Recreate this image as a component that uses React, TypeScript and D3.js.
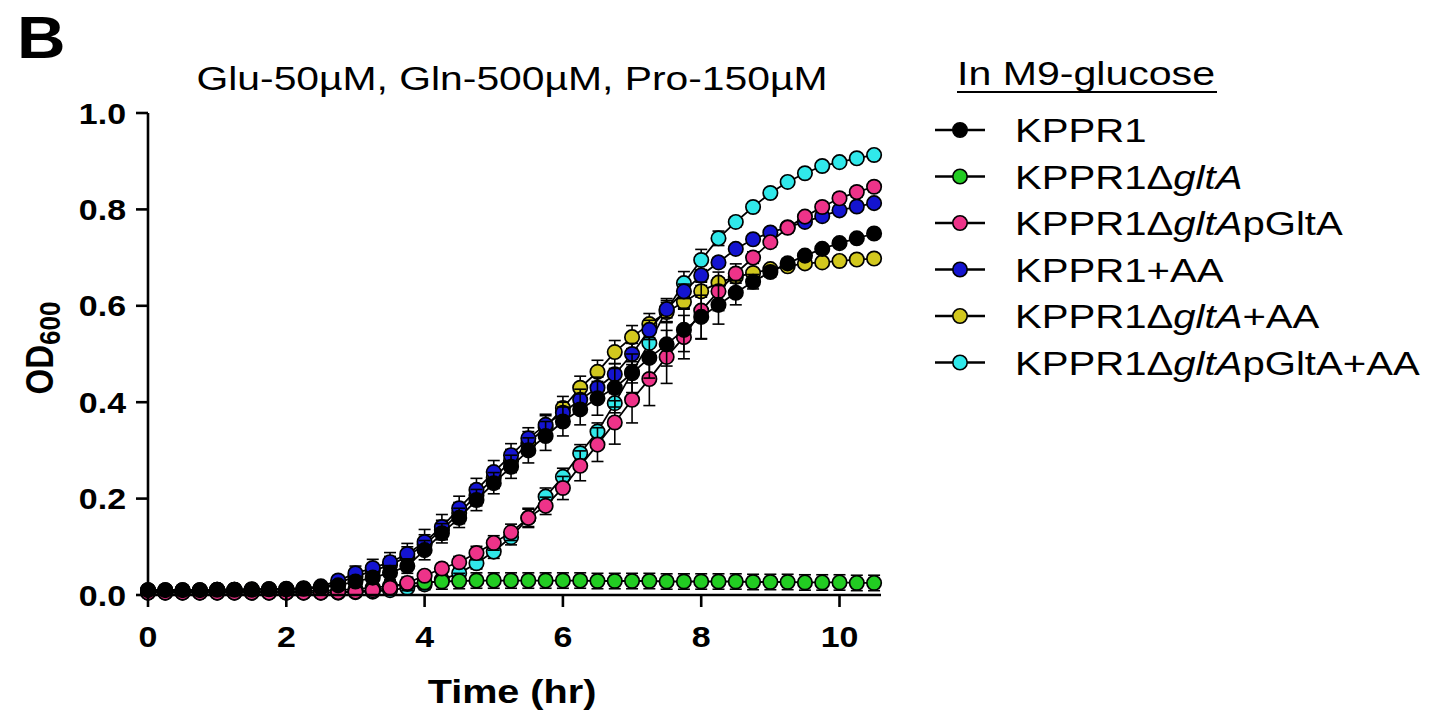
import React from "react";
import * as d3 from "d3";

const time = [0, 0.25, 0.5, 0.75, 1, 1.25, 1.5, 1.75, 2, 2.25, 2.5, 2.75, 3, 3.25, 3.5, 3.75, 4, 4.25, 4.5, 4.75, 5, 5.25, 5.5, 5.75, 6, 6.25, 6.5, 6.75, 7, 7.25, 7.5, 7.75, 8, 8.25, 8.5, 8.75, 9, 9.25, 9.5, 9.75, 10, 10.25, 10.5];

const kppr1 = [0.010, 0.010, 0.010, 0.010, 0.011, 0.011, 0.011, 0.012, 0.012, 0.013, 0.015, 0.020, 0.028, 0.036, 0.046, 0.060, 0.093, 0.128, 0.160, 0.197, 0.232, 0.266, 0.300, 0.330, 0.360, 0.385, 0.408, 0.430, 0.460, 0.492, 0.520, 0.550, 0.577, 0.602, 0.627, 0.650, 0.670, 0.688, 0.704, 0.718, 0.730, 0.740, 0.750];
const kppr1Err = [0.002, 0.002, 0.002, 0.002, 0.002, 0.002, 0.002, 0.002, 0.002, 0.003, 0.004, 0.006, 0.010, 0.012, 0.015, 0.015, 0.020, 0.020, 0.020, 0.022, 0.022, 0.024, 0.026, 0.030, 0.030, 0.032, 0.035, 0.040, 0.040, 0.042, 0.045, 0.045, 0.045, 0.040, 0.025, 0.015, 0.010, 0.010, 0.008, 0.008, 0.008, 0.008, 0.008];

const gltA = [0.008, 0.008, 0.008, 0.008, 0.008, 0.008, 0.008, 0.008, 0.008, 0.008, 0.009, 0.010, 0.012, 0.015, 0.019, 0.023, 0.026, 0.028, 0.029, 0.030, 0.030, 0.030, 0.030, 0.030, 0.030, 0.030, 0.029, 0.029, 0.029, 0.029, 0.028, 0.028, 0.028, 0.028, 0.028, 0.027, 0.027, 0.027, 0.026, 0.026, 0.026, 0.025, 0.025];
const gltAErr = [0.004, 0.004, 0.004, 0.004, 0.004, 0.004, 0.004, 0.004, 0.004, 0.004, 0.005, 0.006, 0.008, 0.010, 0.012, 0.014, 0.015, 0.016, 0.016, 0.016, 0.016, 0.016, 0.016, 0.016, 0.016, 0.016, 0.016, 0.016, 0.016, 0.016, 0.016, 0.016, 0.016, 0.016, 0.016, 0.016, 0.016, 0.016, 0.016, 0.016, 0.016, 0.016, 0.016];

const pGltA = [0.005, 0.005, 0.005, 0.005, 0.005, 0.005, 0.005, 0.005, 0.005, 0.005, 0.005, 0.006, 0.007, 0.010, 0.015, 0.025, 0.040, 0.055, 0.068, 0.087, 0.108, 0.130, 0.160, 0.185, 0.222, 0.268, 0.312, 0.358, 0.405, 0.448, 0.494, 0.535, 0.590, 0.630, 0.667, 0.700, 0.732, 0.762, 0.785, 0.805, 0.823, 0.836, 0.847];
const pGltAErr = [0.002, 0.002, 0.002, 0.002, 0.002, 0.002, 0.002, 0.002, 0.002, 0.002, 0.002, 0.003, 0.003, 0.004, 0.005, 0.006, 0.008, 0.010, 0.012, 0.014, 0.015, 0.017, 0.020, 0.018, 0.024, 0.031, 0.035, 0.045, 0.048, 0.055, 0.055, 0.045, 0.059, 0.040, 0.020, 0.012, 0.010, 0.010, 0.010, 0.010, 0.010, 0.010, 0.010];

const kppr1AA = [0.010, 0.010, 0.010, 0.010, 0.011, 0.011, 0.012, 0.012, 0.013, 0.014, 0.018, 0.030, 0.045, 0.056, 0.068, 0.085, 0.110, 0.141, 0.180, 0.218, 0.255, 0.290, 0.325, 0.353, 0.378, 0.405, 0.430, 0.458, 0.500, 0.550, 0.593, 0.630, 0.663, 0.690, 0.718, 0.738, 0.752, 0.763, 0.774, 0.786, 0.798, 0.806, 0.813];
const kppr1AAErr = [0.002, 0.002, 0.002, 0.002, 0.002, 0.002, 0.002, 0.002, 0.002, 0.003, 0.005, 0.010, 0.015, 0.018, 0.020, 0.022, 0.026, 0.026, 0.025, 0.024, 0.024, 0.024, 0.022, 0.022, 0.022, 0.022, 0.022, 0.022, 0.022, 0.020, 0.018, 0.015, 0.012, 0.010, 0.008, 0.008, 0.008, 0.008, 0.008, 0.008, 0.008, 0.008, 0.008];

const gltAAA = [0.010, 0.010, 0.010, 0.010, 0.011, 0.011, 0.011, 0.012, 0.012, 0.013, 0.015, 0.025, 0.038, 0.050, 0.062, 0.080, 0.105, 0.135, 0.170, 0.207, 0.243, 0.278, 0.315, 0.348, 0.388, 0.430, 0.463, 0.504, 0.535, 0.562, 0.587, 0.608, 0.630, 0.648, 0.660, 0.668, 0.676, 0.682, 0.688, 0.690, 0.693, 0.696, 0.698];
const gltAAAErr = [0.002, 0.002, 0.002, 0.002, 0.002, 0.002, 0.002, 0.002, 0.002, 0.003, 0.004, 0.008, 0.012, 0.015, 0.018, 0.020, 0.020, 0.020, 0.022, 0.022, 0.022, 0.024, 0.024, 0.024, 0.024, 0.024, 0.024, 0.024, 0.024, 0.022, 0.020, 0.015, 0.012, 0.010, 0.008, 0.008, 0.008, 0.008, 0.008, 0.008, 0.008, 0.008, 0.008];

const pGltAAA = [0.005, 0.005, 0.005, 0.005, 0.005, 0.005, 0.005, 0.005, 0.005, 0.005, 0.005, 0.005, 0.006, 0.007, 0.010, 0.015, 0.022, 0.032, 0.045, 0.066, 0.090, 0.120, 0.160, 0.204, 0.245, 0.294, 0.339, 0.398, 0.462, 0.523, 0.591, 0.647, 0.695, 0.740, 0.774, 0.805, 0.834, 0.857, 0.875, 0.890, 0.898, 0.906, 0.913];
const pGltAAAErr = [0.002, 0.002, 0.002, 0.002, 0.002, 0.002, 0.002, 0.002, 0.002, 0.002, 0.002, 0.002, 0.003, 0.003, 0.004, 0.005, 0.006, 0.008, 0.010, 0.012, 0.014, 0.016, 0.018, 0.018, 0.018, 0.018, 0.018, 0.020, 0.022, 0.024, 0.024, 0.024, 0.022, 0.015, 0.010, 0.008, 0.008, 0.008, 0.008, 0.008, 0.008, 0.008, 0.008];

const seriesNames = ["KPPR1", "KPPR1ΔgltA", "KPPR1ΔgltApGltA", "KPPR1+AA", "KPPR1ΔgltA+AA", "KPPR1ΔgltApGltA+AA"];
const seriesColors = ["#000000", "#22cc22", "#ee3389", "#1414d0", "#d2c81e", "#30e8ea"];
const seriesValues = [kppr1, gltA, pGltA, kppr1AA, gltAAA, pGltAAA];
const seriesErrors = [kppr1Err, gltAErr, pGltAErr, kppr1AAErr, gltAAAErr, pGltAAAErr];
// legend label pieces: [normal, italic, normal]
const legendParts = [
  ["KPPR1", "", ""],
  ["KPPR1Δ", "gltA", ""],
  ["KPPR1Δ", "gltA", "pGltA"],
  ["KPPR1+AA", "", ""],
  ["KPPR1Δ", "gltA", "+AA"],
  ["KPPR1Δ", "gltA", "pGltA+AA"],
];
const drawOrder = [5, 4, 1, 3, 2, 0];

const xTicks = [0, 2, 4, 6, 8, 10];
const yTicks = [0, 0.2, 0.4, 0.6, 0.8, 1.0];

const chartTitle = "Glu-50µM, Gln-500µM, Pro-150µM";
const legendTitle = "In M9-glucose";
const xTitle = "Time (hr)";
const panelLabel = "B";

const FONT = "'Liberation Sans', Arial, Helvetica, sans-serif";

export default function App() {
  const x = d3.scaleLinear().domain([0, 10.6]).range([148, 881]);
  const y = d3.scaleLinear().domain([0, 1]).range([595, 113]);
  const line = d3
    .line<number>()
    .x((_, i) => x(time[i]))
    .y((d) => y(d));
  const SX = 1.17;
  const r = 7.2;
  const cap = 6;

  return (
    <svg
      width={1439}
      height={718}
      style={{ position: "absolute", left: 0, top: 0, background: "#fff" }}
      fontFamily={FONT}
    >
      <rect x={0} y={0} width={1439} height={718} fill="#fff" />
      {/* panel label */}
      <text transform={`translate(17,58) scale(1.12,1)`} fontSize={60} fontWeight="bold">
        {panelLabel}
      </text>
      {/* title */}
      <text
        x={512}
        y={90}
        fontSize={33}
        textAnchor="middle"
        textLength={631}
        lengthAdjust="spacingAndGlyphs"
      >
        {chartTitle}
      </text>

      {/* series */}
      {drawOrder.map((si) => {
        const vals = seriesValues[si];
        const errs = seriesErrors[si];
        return (
          <g key={si}>
            <path d={line(vals) || ""} fill="none" stroke="#000" strokeWidth={1.8} />
            {vals.map((v, i) => {
              const cx = x(time[i]);
              const y1 = y(v + errs[i]);
              const y2 = y(Math.max(0, v - errs[i]));
              return (
                <g key={"e" + i} stroke="#000" strokeWidth={1.6}>
                  <line x1={cx} x2={cx} y1={y1} y2={y2} />
                  <line x1={cx - cap} x2={cx + cap} y1={y1} y2={y1} />
                  <line x1={cx - cap} x2={cx + cap} y1={y2} y2={y2} />
                </g>
              );
            })}
            {vals.map((v, i) => (
              <circle
                key={"c" + i}
                cx={x(time[i])}
                cy={y(v)}
                r={r}
                fill={seriesColors[si]}
                stroke="#000"
                strokeWidth={1.7}
              />
            ))}
          </g>
        );
      })}

      {/* axes */}
      <g stroke="#000" strokeWidth={2.6} fill="none">
        <line x1={x(0)} x2={x(0)} y1={y(1)} y2={y(0)} />
        <line x1={x(0)} x2={x(10.6)} y1={y(0)} y2={y(0)} />
        {yTicks.map((t) => (
          <line key={"yt" + t} x1={x(0) - 12} x2={x(0)} y1={y(t)} y2={y(t)} />
        ))}
        {xTicks.map((t) => (
          <line key={"xt" + t} x1={x(t)} x2={x(t)} y1={y(0)} y2={y(0) + 12} />
        ))}
      </g>
      {yTicks.map((t) => (
        <text
          key={"yl" + t}
          transform={`translate(126,${y(t) + 10.5}) scale(${SX},1)`}
          fontSize={29}
          fontWeight="bold"
          textAnchor="end"
        >
          {t.toFixed(1)}
        </text>
      ))}
      {xTicks.map((t) => (
        <text
          key={"xl" + t}
          transform={`translate(${x(t)},${y(0) + 52}) scale(${SX},1)`}
          fontSize={29}
          fontWeight="bold"
          textAnchor="middle"
        >
          {String(t)}
        </text>
      ))}
      <text
        transform={`translate(512,703) scale(1.2,1)`}
        fontSize={33}
        fontWeight="bold"
        textAnchor="middle"
      >
        {xTitle}
      </text>
      <text
        transform={`translate(53,348) rotate(-90) scale(1,${SX})`}
        fontSize={33}
        fontWeight="bold"
        textAnchor="middle"
      >
        OD
        <tspan fontSize={26} dy={6}>
          600
        </tspan>
      </text>

      {/* legend */}
      <text
        x={957}
        y={85}
        fontSize={33}
        textLength={258}
        lengthAdjust="spacingAndGlyphs"
      >
        {legendTitle}
      </text>
      <line x1={957} x2={1217} y1={92} y2={92} stroke="#000" strokeWidth={2} />
      {seriesNames.map((name, i) => {
        const ly = 130 + i * 46.5;
        const [a, b, c] = legendParts[i];
        return (
          <g key={name}>
            <line x1={935} x2={985} y1={ly} y2={ly} stroke="#000" strokeWidth={2.4} />
            <circle cx={960} cy={ly} r={7.2} fill={seriesColors[i]} stroke="#000" strokeWidth={1.6} />
            <text transform={`translate(1015,${ly + 12}) scale(1.18,1)`} fontSize={34}>
              {a}
              {b ? <tspan fontStyle="italic">{b}</tspan> : null}
              {c ? <tspan>{c}</tspan> : null}
            </text>
          </g>
        );
      })}
    </svg>
  );
}
